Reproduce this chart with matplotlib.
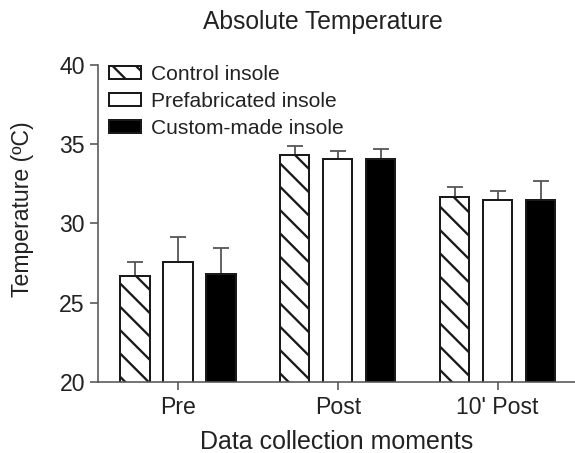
import numpy as np
import matplotlib
matplotlib.use("Agg")
import matplotlib.pyplot as plt

# data
moments = ["Pre", "Post", "10' Post"]
groups = ["Control insole", "Prefabricated insole", "Custom-made insole"]
control = [26.7, 34.3, 31.65]
prefab = [27.55, 34.05, 31.5]
custom = [26.8, 34.05, 31.5]
control_err = [0.9, 0.6, 0.65]
prefab_err = [1.6, 0.5, 0.55]
custom_err = [1.65, 0.65, 1.15]

DPI = 70
def px(v):
    # pixels -> points at this dpi
    return v * 72.0 / DPI

plt.rcParams['font.family'] = ['Liberation Sans', 'DejaVu Sans']
plt.rcParams['hatch.linewidth'] = px(2.3)

fig = plt.figure(figsize=(575 / DPI, 453 / DPI), dpi=DPI)
ax = fig.add_axes([98 / 575, 71 / 453, 477 / 575, 317 / 453])

x = np.arange(len(moments))
w = 0.184
off = 0.269
styles = [
    (control, control_err, "white", "\\"),
    (prefab, prefab_err, "white", None),
    (custom, custom_err, "black", None),
]
for i, (vals, err, fc, hatch) in enumerate(styles):
    xs = x + (i - 1) * off
    ax.errorbar(xs, vals, yerr=[np.zeros(len(err)), err], fmt="none",
                ecolor="#555555", elinewidth=px(1.8), capsize=px(8),
                capthick=px(1.8), zorder=1)
    ax.bar(xs, vals, width=w, bottom=0, color=fc, edgecolor="#1a1a1a",
           linewidth=px(2), hatch=hatch, label=groups[i], zorder=2)

ax.set_ylim(20, 40)
ax.set_xlim(-0.5, 2.484)
ax.set_yticks([20, 25, 30, 35, 40])
ax.set_xticks(x)
ax.set_xticklabels(moments)

for s in ["top", "right"]:
    ax.spines[s].set_visible(False)
for s in ["left", "bottom"]:
    ax.spines[s].set_color("#555555")
    ax.spines[s].set_linewidth(px(1.6))
ax.tick_params(axis="both", direction="out", length=px(8), width=px(1.6),
               color="#555555", labelsize=px(23), labelcolor="#222222")
ax.tick_params(axis="y", pad=px(5))
ax.tick_params(axis="x", pad=px(6))

ax.set_ylabel("Temperature (ºC)", fontsize=px(23), color="#222222")
ax.yaxis.set_label_coords(-0.134, 0.545)
ax.set_xlabel("Data collection moments", fontsize=px(25), color="#222222",
              labelpad=px(11))
fig.text(323 / 575, 1 - 29 / 453, "Absolute Temperature", fontsize=px(24.7),
         ha="center", va="baseline", color="#222222")

ax.legend(loc="upper left", bbox_to_anchor=(109 / 575, 1 - 65 / 453),
          bbox_transform=fig.transFigure, frameon=False, fontsize=px(21),
          handlelength=1.52, handleheight=0.62, handletextpad=0.5,
          labelspacing=0.38, borderpad=0, borderaxespad=0,
          labelcolor="#222222")

fig.savefig("out.png", dpi=DPI)
